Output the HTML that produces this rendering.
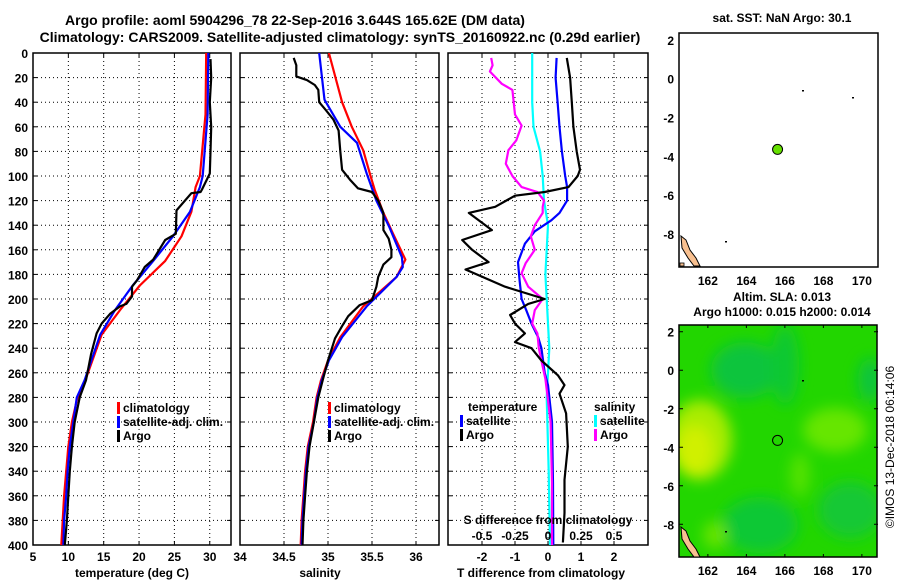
<!DOCTYPE html>
<html><head><meta charset="utf-8"><style>
html,body{margin:0;padding:0;background:#fff}
svg{display:block}
text{font-family:"Liberation Sans",sans-serif;font-weight:bold;fill:#000}
</style></head><body>
<svg id="chart" width="900" height="580" viewBox="0 0 900 580" xmlns="http://www.w3.org/2000/svg">
<defs>
<clipPath id="c1"><rect x="33" y="53" width="198" height="492"/></clipPath>
<clipPath id="c2"><rect x="240" y="53" width="199" height="492"/></clipPath>
<clipPath id="c3"><rect x="448" y="53" width="200" height="492"/></clipPath>
<clipPath id="cm2"><rect x="679" y="325" width="198" height="232"/></clipPath>
<filter id="blur"><feGaussianBlur stdDeviation="7"/></filter>
</defs>
<text x="295" y="25" font-size="14" text-anchor="middle">Argo profile: aoml 5904296_78 22-Sep-2016 3.644S 165.62E (DM data)</text>
<text x="340" y="42" font-size="14" text-anchor="middle">Climatology: CARS2009. Satellite-adjusted climatology: synTS_20160922.nc (0.29d earlier)</text>
<g id="p1"></g>
<g id="p2"></g>
<g id="p3"></g>
<g id="maps"></g>
</svg>
<script>
// ---- data ----
const tcDepth=[0,50,100,109,129,149,169,189,209,229,266,280,300,320,340,360,380,400];
const tcClim=[29.5,29.4,28.6,28.0,27.4,26.0,23.7,20.1,17.3,14.7,12.4,11.3,10.5,10.0,9.7,9.4,9.2,9.0];
const tsSat=[29.8,29.7,29.0,28.6,27.2,24.8,22.0,19.1,16.6,14.5,12.3,11.2,10.7,10.2,9.9,9.7,9.4,9.3];
const taDepth=[5,20,40,60,80,98,111,113,114,128,147,152,168,174,185,190,198,204,206,212,220,228,245,266,280,300,320,340,360,380,400];
const taArgo=[30.1,30.2,30.0,30.2,30.1,30.0,28.9,28.7,27.4,25.3,25.2,23.7,22.0,20.8,19.7,19.0,19.0,18.2,17.3,15.9,14.7,14.0,13.2,12.5,11.6,10.9,10.5,10.2,10.0,9.8,9.5];

const scDepth=[0,40,60,79,99,111,130,147,168,182,206,231,250,266,280,300,320,340,360,380,400];
const scClim=[35.01,35.16,35.27,35.40,35.48,35.53,35.63,35.74,35.88,35.78,35.40,35.14,35.00,34.92,34.87,34.83,34.77,34.74,34.72,34.70,34.69];
const ssDepth=[0,38,60,73,98,120,142,166,174,182,206,231,250,266,280,300,320,340,360,380,400];
const ssSat=[34.90,34.96,35.14,35.33,35.44,35.55,35.70,35.84,35.85,35.78,35.44,35.16,35.01,34.93,34.88,34.84,34.78,34.75,34.73,34.71,34.70];
const saDepth=[4,10,19,22,26,30,40,46,54,63,80,95,103,110,113,120,130,144,151,160,166,172,182,190,201,205,214,222,232,250,266,280,300,320,340,360,380,400];
const saArgo=[34.61,34.64,34.64,34.76,34.85,34.89,34.90,34.97,35.06,35.12,35.14,35.16,35.25,35.34,35.50,35.57,35.63,35.63,35.69,35.72,35.72,35.63,35.57,35.55,35.50,35.36,35.23,35.16,35.08,35.00,34.94,34.89,34.84,34.79,34.76,34.74,34.72,34.71];

const dtsDepth=[4,20,40,60,80,100,109,120,130,136,145,155,170,185,200,209,220,231,240,260,270,300,350,400];
const dtSat=[0.26,0.23,0.29,0.35,0.42,0.52,0.58,0.58,0.35,0.1,-0.4,-0.7,-0.91,-0.86,-0.8,-0.66,-0.5,-0.3,-0.2,-0.1,0.0,0.12,0.15,0.16];
const dtaDepth=[4,20,40,60,80,95,100,109,113,116,125,130,144,152,160,170,176,190,200,204,213,220,228,235,240,250,262,270,277,293,320,347,374,398];
const dtArgo=[0.57,0.67,0.72,0.77,0.87,0.97,0.90,0.62,-0.1,-1.0,-1.6,-2.4,-1.7,-2.6,-2.3,-1.8,-2.5,-1.3,-0.1,-0.6,-1.15,-1.0,-0.7,-1.0,-0.5,-0.2,0.3,0.5,0.35,0.55,0.6,0.5,0.5,0.45];
const dssDepth=[0,40,60,80,100,120,140,160,180,200,220,240,260,280,340,400];
const dsSat=[-0.12,-0.12,-0.11,-0.06,-0.04,-0.03,0.0,-0.01,-0.02,-0.01,0.0,0.01,0.0,-0.01,0.005,0.015];
const dsaDepth=[4,10,15,25,30,40,50,59,71,79,90,100,109,113,120,125,130,140,149,160,171,179,190,200,209,220,228,240,255,265,300,350,400];
const dsArgo=[-0.43,-0.42,-0.44,-0.35,-0.27,-0.26,-0.25,-0.2,-0.24,-0.3,-0.32,-0.27,-0.2,-0.08,-0.03,-0.04,-0.04,-0.1,-0.13,-0.1,-0.17,-0.2,-0.15,-0.04,-0.1,-0.12,-0.08,-0.07,-0.04,-0.02,0.02,0.03,0.03];

const depthTicks=[0,20,40,60,80,100,120,140,160,180,200,220,240,260,280,300,320,340,360,380,400];
const tTicks=[5,10,15,20,25,30];
const sTicks=[34,34.5,35,35.5,36];
const dtTicks=[-2,-1,0,1,2];
const dsTicks=[-0.5,-0.25,0,0.25,0.5];

// ---- scales ----
const Y=d=>53+d*1.23;
const XT=t=>33+(t-5)*7.07;
const XS=s=>240+(s-34)*88;
const XD=t=>548+t*33;
const XDS=s=>548+s*132;
const NS='http://www.w3.org/2000/svg';
function mk(parent,tag,attrs){const e=document.createElementNS(NS,tag);for(const k in attrs)e.setAttribute(k,attrs[k]);parent.appendChild(e);return e;}
function txt(parent,x,y,s,size,anchor,name){const e=mk(parent,'text',{x:x,y:y,'font-size':size,'text-anchor':anchor||'start'});e.textContent=s;


return e;}
function line(g,xs,ds,fx,col,name,clip){
  let p='';for(let i=0;i<xs.length;i++){p+=(i?'L':'M')+fx(xs[i]).toFixed(1)+','+Y(ds[i]).toFixed(1);}
  const e=mk(g,'path',{d:p,fill:'none',stroke:col,'stroke-width':2.2,'stroke-linejoin':'round','clip-path':'url(#'+clip+')'});
  
  
}
function frame(g,x0,x1,xt,fx,labels,clip,showY){
  for(const d of depthTicks){
    if(d>0&&d<400){const gl=mk(g,'line',{x1:x0,x2:x1,y1:Y(d),y2:Y(d),stroke:'#000','stroke-width':1,'stroke-dasharray':'1,3'});
    
    }
    mk(g,'line',{x1:x0,x2:x0+4,y1:Y(d),y2:Y(d),stroke:'#000'});
    mk(g,'line',{x1:x1-4,x2:x1,y1:Y(d),y2:Y(d),stroke:'#000'});
    if(showY){txt(g,28,Y(d)+5,String(d),12,'end','y-tick-label');}
  }
  xt.forEach((v,i)=>{const x=fx(v);
    if(x>x0+1&&x<x1-1){const gl=mk(g,'line',{x1:x,x2:x,y1:53,y2:545,stroke:'#000','stroke-width':1,'stroke-dasharray':'1,3'});
    
    }
    mk(g,'line',{x1:x,x2:x,y1:53,y2:57,stroke:'#000'});mk(g,'line',{x1:x,x2:x,y1:541,y2:545,stroke:'#000'});
    if(labels)txt(g,x,561,labels[i],12,'middle','x-tick-label');
  });
  const r=mk(g,'rect',{x:x0,y:53,width:x1-x0,height:492,fill:'none',stroke:'#000','stroke-width':1.5});
  
  
}
function legItem(g,x,y,col,label){
  mk(g,'rect',{x:x,y:y-10,width:3,height:12,fill:col});
  txt(g,x+6,y,label,12,'start','legend-entry');
}
// panel 1
const p1=document.getElementById('p1');
frame(p1,33,231,tTicks,XT,tTicks.map(String),'c1',true);
line(p1,tcClim,tcDepth,XT,'#ff0000','temp-climatology-line','c1');
line(p1,tsSat,tcDepth,XT,'#0000ff','temp-satellite-line','c1');
line(p1,taArgo,taDepth,XT,'#000000','temp-argo-line','c1');
legItem(p1,117,412,'#ff0000','climatology');
legItem(p1,117,426,'#0000ff','satellite-adj. clim.');
legItem(p1,117,440,'#000000','Argo');
txt(p1,132,577,'temperature (deg C)',12,'middle','x-axis-title-temperature');
// panel 2
const p2=document.getElementById('p2');
frame(p2,240,439,sTicks,XS,['34','34.5','35','35.5','36'],'c2',false);
line(p2,scClim,scDepth,XS,'#ff0000','sal-climatology-line','c2');
line(p2,ssSat,ssDepth,XS,'#0000ff','sal-satellite-line','c2');
line(p2,saArgo,saDepth,XS,'#000000','sal-argo-line','c2');
legItem(p2,328,412,'#ff0000','climatology');
legItem(p2,328,426,'#0000ff','satellite-adj. clim.');
legItem(p2,328,440,'#000000','Argo');
txt(p2,320,577,'salinity',12,'middle','x-axis-title-salinity');
// panel 3
const p3=document.getElementById('p3');
frame(p3,448,648,dtTicks,XD,dtTicks.map(String),'c3',false);
line(p3,dsSat,dssDepth,XDS,'#00ffff','sdiff-satellite-line','c3');
line(p3,dtSat,dtsDepth,XD,'#0000ff','tdiff-satellite-line','c3');
line(p3,dsArgo,dsaDepth,XDS,'#ff00ff','sdiff-argo-line','c3');
line(p3,dtArgo,dtaDepth,XD,'#000000','tdiff-argo-line','c3');
txt(p3,468,411,'temperature',12,'start','legend-title-temperature');
legItem(p3,460,425,'#0000ff','satellite');
legItem(p3,460,439,'#000000','Argo');
txt(p3,594,411,'salinity',12,'start','legend-title-salinity');
legItem(p3,594,425,'#00ffff','satellite');
legItem(p3,594,439,'#ff00ff','Argo');
txt(p3,548,524,'S difference from climatology',12,'middle','s-diff-axis-title');
dsTicks.forEach(v=>txt(p3,XDS(v),540,String(v),12,'middle','s-diff-tick-label'));
txt(p3,541,577,'T difference from climatology',12,'middle','x-axis-title-tdiff');

// maps
const M=document.getElementById('maps');
const lonTicks=[162,164,166,168,170];
const latTicks=[2,0,-2,-4,-6,-8];
function mapFrame(top,bot,ytop){
  const LX=l=>679+(l-160.5)*19.25;
  const LY=l=>ytop+(2.35-l)*(bot-top)/12.05;
  lonTicks.forEach(l=>{mk(M,'line',{x1:LX(l),x2:LX(l),y1:top,y2:top+3,stroke:'#000'});mk(M,'line',{x1:LX(l),x2:LX(l),y1:bot-3,y2:bot,stroke:'#000'});
    txt(M,LX(l),bot+18,String(l),12,'middle','lon-tick-label');});
  latTicks.forEach(l=>{const y=LY(l);mk(M,'line',{x1:679,x2:683,y1:y,y2:y,stroke:'#000'});mk(M,'line',{x1:874,x2:878,y1:y,y2:y,stroke:'#000'});
    txt(M,674,y+5,String(l),12,'end','lat-tick-label');});
  return [LX,LY];
}
// map 1
txt(M,782,22,'sat. SST: NaN Argo: 30.1',12,'middle','sst-map-title');
let [LX1,LY1]=mapFrame(33,267,33);
mk(M,'rect',{x:679,y:33,width:199,height:234,fill:'#fff',stroke:'#000','stroke-width':1.5});
const dot=mk(M,'circle',{cx:LX1(165.62),cy:LY1(-3.644),r:5,fill:'#66e000',stroke:'#000','stroke-width':1});


mk(M,'path',{d:'M681,236 L686,240 L690,250 L696,258 L700,266 L694,266 L688,258 L682,248 Z',fill:'#f8c090',stroke:'#000','stroke-width':1});
mk(M,'rect',{x:680,y:263,width:4,height:3,fill:'#f8c090',stroke:'#000','stroke-width':0.8});
mk(M,'rect',{x:802,y:90,width:2,height:1.5,fill:'#000'});mk(M,'rect',{x:852,y:97,width:2,height:1.5,fill:'#000'});mk(M,'rect',{x:725,y:241,width:2,height:1.5,fill:'#000'});
// map 2
txt(M,782,301,'Altim. SLA: 0.013',12,'middle','sla-map-title');
txt(M,782,316,'Argo h1000: 0.015 h2000: 0.014',12,'middle','sla-map-subtitle');
const hm=mk(M,'g',{'clip-path':'url(#cm2)'});


mk(hm,'rect',{x:679,y:325,width:198,height:232,fill:'#22d600'});
const hb=mk(hm,'g',{filter:'url(#blur)'});
mk(hb,'ellipse',{cx:745,cy:370,rx:34,ry:28,fill:'#0cc43c'});
mk(hb,'ellipse',{cx:785,cy:365,rx:14,ry:40,fill:'#10c830'});
mk(hb,'ellipse',{cx:870,cy:380,rx:12,ry:22,fill:'#0cc43c'});
mk(hb,'ellipse',{cx:700,cy:440,rx:32,ry:40,fill:'#a8ec00'});
mk(hb,'ellipse',{cx:695,cy:450,rx:18,ry:25,fill:'#d0f000'});
mk(hb,'ellipse',{cx:835,cy:430,rx:32,ry:22,fill:'#66e600'});
mk(hb,'ellipse',{cx:800,cy:475,rx:10,ry:22,fill:'#55e200'});
mk(hb,'ellipse',{cx:760,cy:525,rx:38,ry:28,fill:'#10c836'});
mk(hb,'ellipse',{cx:850,cy:510,rx:32,ry:28,fill:'#12c834'});
mk(hb,'ellipse',{cx:715,cy:535,rx:12,ry:14,fill:'#66e400'});
let [LX2,LY2]=mapFrame(325,557,325);
mk(M,'rect',{x:679,y:325,width:198,height:232,fill:'none',stroke:'#000','stroke-width':1.5});
const ring=mk(M,'circle',{cx:LX2(165.62),cy:LY2(-3.644),r:5,fill:'none',stroke:'#000','stroke-width':1});


mk(M,'path',{d:'M681,527 L686,531 L690,541 L696,549 L700,557 L694,557 L688,549 L682,539 Z',fill:'#f8c090',stroke:'#000','stroke-width':1});
mk(M,'rect',{x:802,y:380,width:2,height:1.5,fill:'#000'});mk(M,'rect',{x:725,y:531,width:2,height:1.5,fill:'#000'});
const cp=txt(M,0,0,'\u00A9IMOS 13-Dec-2018 06:14:06',12,'middle','copyright-stamp');
cp.setAttribute('font-weight','normal');cp.style.fontWeight='normal';
cp.setAttribute('transform','translate(894,447) rotate(-90)');
</script>
</body></html>
